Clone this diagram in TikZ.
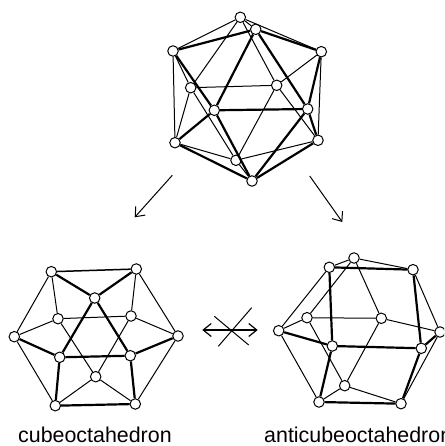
\documentclass[tikz,border=0pt]{standalone}
\usepackage{fontspec}
\setmainfont{Liberation Sans}
\usetikzlibrary{arrows.meta}
\tikzset{
  vtx/.style={circle,draw=black,fill=white,line width=1pt,inner sep=0pt,minimum size=10.5pt},
  thn/.style={line width=1pt,draw=black},
  thk/.style={line width=2.2pt,draw=black},
  med/.style={line width=1.5pt,draw=black},
  arr/.style={line width=1pt,draw=black,-{Straight Barb[length=8pt,width=13pt]}},
  arrb/.style={line width=1.2pt,draw=black,{Straight Barb[length=8pt,width=13pt]}-{Straight Barb[length=8pt,width=13pt]}},
  crs/.style={line width=1pt,draw=black},
  lbl/.style={inner sep=0pt,anchor=base west,font=\fontsize{21.4}{24}\selectfont}
}
\begin{document}
\begin{tikzpicture}[x=1pt,y=-1pt]
\useasboundingbox (0,0) rectangle (444,446);
\clip (0,0) rectangle (444,446);
\foreach \nm/\px/\py in {T/240.3/17.3,U/255.7/29.3,UL/173/51,UR/321.3/51.7,BL/190.7/87.7,BR/276.7/85.3,FL/214.3/110.3,FR/307.7/109,LL/175/142.7,LR/318/140.3,Bb/236/160.3,Bo/252/181,
 a/51.3/271.7,b/136.3/269,c/94.7/298,d/58/318.7,e/131/316,f/14.3/336.7,g/178/336,h/59.7/357.3,i/130.3/355.7,j/95.7/376.7,k/55.3/405.7,l/135.3/404,
 A/354/258,B/329.3/267.3,C/413/269.7,D/307/317.7,E/381.3/318.3,F/278.7/330.7,G/440/332,H/332.3/346,I/421.3/348.3,J/344.7/385.7,K/319/402,L/401/403.7}
  {\node[vtx] (\nm) at (\px,\py) {};}
\foreach \sa/\sb in {T/UL,T/U,T/UR,T/BL,T/BR,BL/BR,BL/UL,BL/LL,BL/Bb,BR/UR,BR/LR,BR/Bb,Bb/LL,Bb/LR,Bb/Bo,UL/LL,UR/LR,
 a/d,b/e,a/f,b/g,d/e,d/f,e/g,d/j,e/j,f/k,g/l,j/k,j/l,
 A/B,A/C,A/D,A/E,B/F,C/G,D/E,D/F,D/J,E/G,E/J,F/K,G/L,J/K,J/L}
  {\draw[thn] (\sa) -- (\sb);}
\foreach \sa/\sb in {U/UL,U/FL,U/FR,U/UR,UL/FL,FL/FR,FL/Bo,FL/LL,LL/Bo,FR/Bo,FR/UR,FR/LR,LR/Bo,
 a/c,b/c,c/h,c/i,h/i,f/h,g/i,h/k,i/l,k/l,
 B/C,B/H,C/I,F/H,H/I,H/K,I/G,I/L,K/L}
  {\draw[thk] (\sa) -- (\sb);}
\draw[med] (a) -- (b);
\coordinate (a1s) at (172.3,175.3); \coordinate (a1e) at (134.7,217.3);
\coordinate (a2s) at (309.7,176);   \coordinate (a2e) at (342.3,222);
\coordinate (a3s) at (202.3,330);   \coordinate (a3e) at (257.7,330);
\coordinate (c1s) at (214.3,316.3); \coordinate (c1e) at (248.7,345);
\coordinate (c2s) at (251.7,307.7); \coordinate (c2e) at (218.3,346.3);
\draw[arr] (a1s) -- (a1e);
\draw[arr] (a2s) -- (a2e);
\draw[arrb] (a3s) -- (a3e);
\draw[crs] (c1s) -- (c1e);
\draw[crs] (c2s) -- (c2e);
\node[lbl] (lab1) at (18,442.5) {cubeoctahedron};
\node[lbl] (lab2) at (264,442.5) {anticubeoctahedron};
\end{tikzpicture}
\end{document}
